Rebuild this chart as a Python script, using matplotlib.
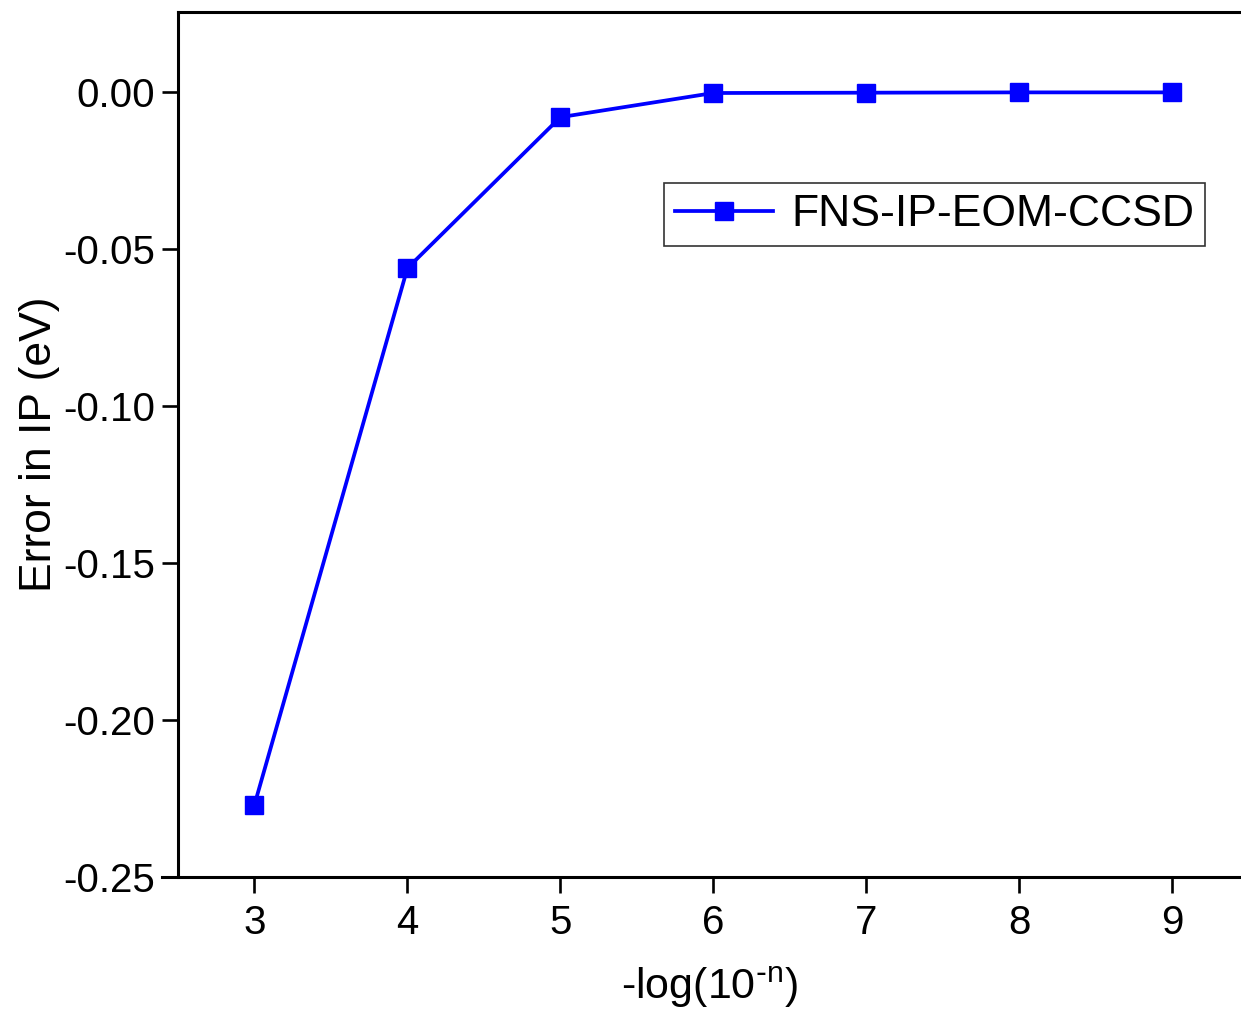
import matplotlib.pyplot as plt

plt.rcParams['font.family'] = ['Liberation Sans', 'DejaVu Sans']

# data
n_values = [3, 4, 5, 6, 7, 8, 9]
ip_error = [-0.227, -0.0561, -0.0080, -0.0003, -0.0002, -0.0001, -0.0001]
series_name = "FNS-IP-EOM-CCSD"
y_ticks = [0.00, -0.05, -0.10, -0.15, -0.20, -0.25]

fig = plt.figure(figsize=(12.41, 10.19), dpi=100)
ax = fig.add_axes([178 / 1241, 1 - 877 / 1019, 1 - 178 / 1241, (877 - 12) / 1019])

ax.plot(n_values, ip_error, color='#0000ff', lw=2.7, marker='s', ms=13,
        markeredgecolor='#0000ff', label=series_name)

ax.set_xlim(2.5, 9.45)
ax.set_ylim(-0.25, 0.0255)
ax.set_xticks(n_values)
ax.set_yticks(y_ticks)
ax.set_yticklabels([f"{v:.2f}" for v in y_ticks])

for s in ['left', 'bottom', 'top']:
    ax.spines[s].set_linewidth(2.2)
ax.spines['right'].set_visible(False)
ax.spines['bottom'].set_bounds(2.395, 9.45)

ax.tick_params(direction='out', length=11.5, width=1.9, labelsize=29, pad=8)
ax.tick_params(axis='y', pad=5)

ax.set_xlabel(r"-log(10$^{\mathregular{\text{-}n}}$)", fontsize=31, labelpad=16)
ax.set_ylabel("Error in IP (eV)", fontsize=32, labelpad=2)

leg = ax.legend(loc='upper right', bbox_to_anchor=((1205 - 178) / 1063, 1 - (183 - 12) / 865),
                bbox_transform=ax.transAxes, borderaxespad=0, fontsize=32, frameon=True,
                fancybox=False, handlelength=2.2, borderpad=0.25, handletextpad=0.4)
leg.get_frame().set_edgecolor('#333333')
leg.get_frame().set_linewidth(1.2)
leg.get_frame().set_alpha(1)

fig.savefig('out.png', dpi=100)
